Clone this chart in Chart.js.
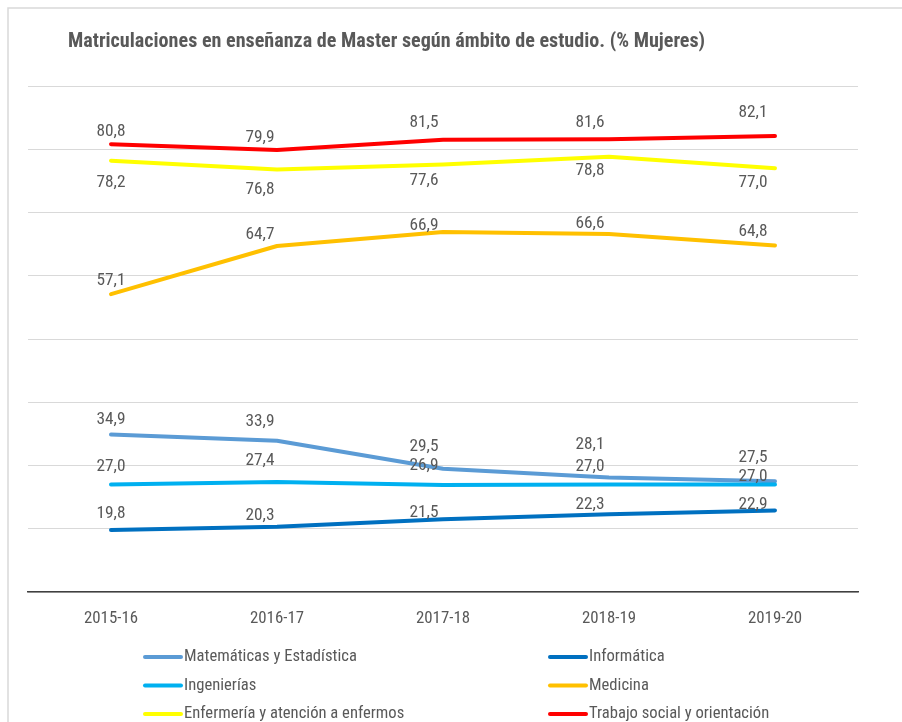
<!DOCTYPE html>
<html>
<head>
<meta charset="utf-8">
<script src="https://cdn.jsdelivr.net/npm/chart.js@4.4.1/dist/chart.umd.min.js"></script>
<style>
  html, body { margin: 0; padding: 0; background: #ffffff; }
  #wrap { position: relative; width: 902px; height: 722px; overflow: hidden; }
  canvas { display: block; }
</style>
</head>
<body>
<div id="wrap"><canvas id="c" width="902" height="722"></canvas></div>
<script>
// ---- Data ----
const categories = ['2015-16', '2016-17', '2017-18', '2018-19', '2019-20'];
const seriesNames = [
  'Matemáticas y Estadística',
  'Informática',
  'Ingenierías',
  'Medicina',
  'Enfermería y atención a enfermos',
  'Trabajo social y orientación'
];
const matematicas   = [34.9, 33.9, 29.5, 28.1, 27.5];
const informatica   = [19.8, 20.3, 21.5, 22.3, 22.9];
const ingenierias   = [27.0, 27.4, 26.9, 27.0, 27.0];
const medicina      = [57.1, 64.7, 66.9, 66.6, 64.8];
const enfermeria    = [78.2, 76.8, 77.6, 78.8, 77.0];
const trabajoSocial = [80.8, 79.9, 81.5, 81.6, 82.1];
const yTicks = [10, 20, 30, 40, 50, 60, 70, 80, 90];
const titleText = 'Matriculaciones en enseñanza de Master según ámbito de estudio. (% Mujeres)';

// ---- Styles ----
const seriesColors = ['#5B9BD5', '#0070C0', '#00B0F0', '#FFC000', '#FFFF00', '#FF0000'];
const FAMILY = "'Liberation Sans Narrow', 'Arial Narrow', 'Roboto Condensed', sans-serif";
const TEXT_COLOR = '#595959';
// label offsets (style only)
const labelDx = [0, -17, -19, -19, -22];
const labelDy = [
  [-15, -19, -22, -33, -24],
  [-16, -11, -7, -10, -6],
  [-18, -21, -19, -18, -8],
  [-13, -11, -6, -10, -14],
  [22, 20, 16, 14, 14],
  [-13, -12, -17, -16, -23]
];

function fitSize(text, weight, target) {
  const ctx = document.createElement('canvas').getContext('2d');
  ctx.font = weight + ' 100px ' + FAMILY;
  return 100 * target / ctx.measureText(text).width;
}
const titleSize  = fitSize(titleText, 'bold', 637);
const tickSize   = fitSize('2019-20', 'normal', 54);
const legendSize = fitSize('Matemáticas y Estadística', 'normal', 173);
const labelSize  = fitSize('78,2', 'normal', 29);

const seriesData = [matematicas, informatica, ingenierias, medicina, enfermeria, trabajoSocial];

const datasets = seriesData.map((d, i) => ({
  label: seriesNames[i],
  data: d,
  borderColor: seriesColors[i],
  backgroundColor: seriesColors[i],
  borderWidth: 4,
  pointRadius: 0,
  tension: 0,
  fill: false,
  borderCapStyle: 'round',
  borderJoinStyle: 'round',
  order: seriesData.length - i
}));

const framePlugin = {
  id: 'frame',
  beforeDraw(chart) {
    const ctx = chart.ctx;
    ctx.save();
    ctx.fillStyle = '#ffffff';
    ctx.fillRect(0, 0, chart.width, chart.height);
    ctx.strokeStyle = '#d9d9d9';
    ctx.lineWidth = 1.5;
    ctx.beginPath();
    ctx.moveTo(8, chart.height);
    ctx.lineTo(8, 8);
    ctx.lineTo(chart.width, 8);
    ctx.stroke();
    // title
    ctx.fillStyle = TEXT_COLOR;
    ctx.font = 'bold ' + titleSize.toFixed(2) + 'px ' + FAMILY;
    ctx.textAlign = 'left';
    ctx.textBaseline = 'alphabetic';
    ctx.fillText(titleText, 68, 47);
    ctx.restore();
  }
};

const labelPlugin = {
  id: 'valueLabels',
  afterDatasetsDraw(chart) {
    const ctx = chart.ctx;
    ctx.save();
    ctx.fillStyle = TEXT_COLOR;
    ctx.font = labelSize.toFixed(2) + 'px ' + FAMILY;
    ctx.textAlign = 'center';
    ctx.textBaseline = 'middle';
    chart.data.datasets.forEach((ds, i) => {
      const meta = chart.getDatasetMeta(i);
      meta.data.forEach((pt, j) => {
        const txt = ds.data[j].toFixed(1).replace('.', ',');
        ctx.fillText(txt, pt.x + labelDx[j], pt.y + labelDy[i][j]);
      });
    });
    ctx.restore();
  }
};

const legendPlugin = {
  id: 'customLegend',
  afterDraw(chart) {
    const ctx = chart.ctx;
    ctx.save();
    ctx.font = legendSize.toFixed(2) + 'px ' + FAMILY;
    ctx.textAlign = 'left';
    ctx.textBaseline = 'middle';
    const colX = [143, 548];
    const rowY = [657, 685.5, 714];
    chart.data.datasets.forEach((ds, i) => {
      const x = colX[i % 2];
      const y = rowY[Math.floor(i / 2)];
      ctx.strokeStyle = ds.borderColor;
      ctx.lineWidth = 4;
      ctx.lineCap = 'round';
      ctx.beginPath();
      ctx.moveTo(x + 2, y);
      ctx.lineTo(x + 38, y);
      ctx.stroke();
      ctx.fillStyle = TEXT_COLOR;
      ctx.fillText(ds.label, x + 41, y);
    });
    ctx.restore();
  }
};

new Chart(document.getElementById('c'), {
  type: 'line',
  data: { labels: categories, datasets },
  options: {
    responsive: false,
    animation: false,
    devicePixelRatio: 1,
    layout: { padding: { left: 28, right: 44, top: 86, bottom: 0 } },
    plugins: {
      legend: { display: false },
      title: { display: false },
      tooltip: { enabled: false }
    },
    scales: {
      x: {
        type: 'category',
        offset: true,
        grid: { display: false, drawTicks: false },
        border: { display: true, color: '#404040', width: 1.5 },
        ticks: {
          color: TEXT_COLOR,
          font: { family: FAMILY, size: tickSize },
          padding: 17,
          maxRotation: 0
        },
        afterFit(s) { s.height = 130; }
      },
      y: {
        min: yTicks[0],
        max: yTicks[yTicks.length - 1],
        afterBuildTicks(s) { s.ticks = yTicks.map(v => ({ value: v })); },
        grid: { color: '#d9d9d9', lineWidth: 1, drawTicks: false },
        border: { display: false },
        ticks: { display: false },
        afterFit(s) { s.width = 0; }
      }
    }
  },
  plugins: [framePlugin, labelPlugin, legendPlugin]
});
</script>
</body>
</html>
